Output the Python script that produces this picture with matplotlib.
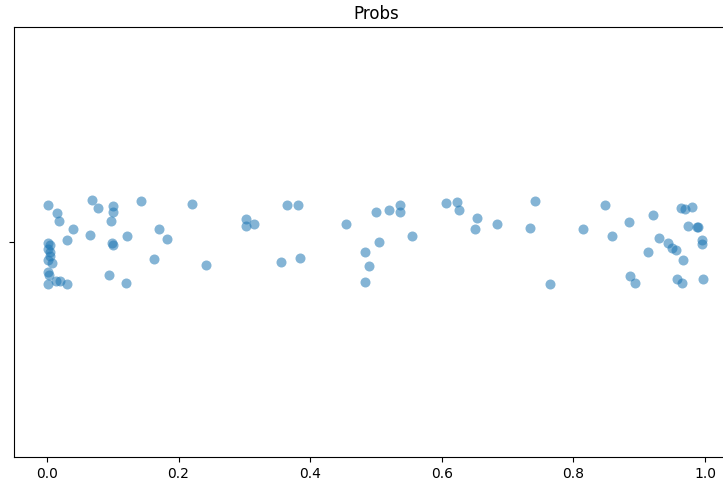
import matplotlib
matplotlib.use("Agg")
import matplotlib.pyplot as plt

title = "Probs"
xtick_vals = [0.0, 0.2, 0.4, 0.6, 0.8, 1.0]
xtick_labels = ["0.0", "0.2", "0.4", "0.6", "0.8", "1.0"]

probs = [0.001, 0.015, 0.019, 0.039, 0.031, 0.002, 0.005, 0.002, 0.005, 0.004,
         0.001, 0.008, 0.001, 0.003, 0.001, 0.014, 0.020, 0.031, 0.068, 0.077,
         0.100, 0.100, 0.097, 0.066, 0.099, 0.100, 0.121, 0.094, 0.120, 0.143,
         0.171, 0.183, 0.163, 0.220, 0.241, 0.303, 0.302, 0.315, 0.365, 0.381,
         0.356, 0.385, 0.455, 0.483, 0.490, 0.483, 0.500, 0.504, 0.519, 0.536,
         0.536, 0.555, 0.607, 0.623, 0.626, 0.654, 0.650, 0.684, 0.734, 0.741,
         0.765, 0.814, 0.848, 0.858, 0.885, 0.921, 0.886, 0.893, 0.914, 0.930,
         0.944, 0.949, 0.956, 0.966, 0.963, 0.970, 0.980, 0.974, 0.987, 0.989,
         0.996, 0.995, 0.958, 0.965, 0.997]

jitter = [-0.086, -0.067, -0.049, -0.031, -0.005, 0.003, 0.007, 0.016, 0.024, 0.033,
          0.042, 0.048, 0.069, 0.076, 0.098, 0.090, 0.090, 0.098, -0.098, -0.079,
          -0.084, -0.069, -0.049, -0.016, 0.003, 0.007, -0.014, 0.077, 0.096, -0.095,
          -0.030, -0.007, 0.040, -0.088, 0.053, -0.053, -0.038, -0.041, -0.086, -0.086,
          0.046, 0.037, -0.043, 0.023, 0.056, 0.092, -0.069, 0.001, -0.074, -0.086,
          -0.070, -0.014, -0.090, -0.094, -0.074, -0.055, -0.030, -0.043, -0.032, -0.096,
          0.098, -0.030, -0.086, -0.014, -0.047, -0.062, 0.079, 0.095, 0.024, -0.010,
          0.003, 0.013, 0.019, 0.042, -0.080, -0.077, -0.082, -0.038, -0.035, -0.034,
          -0.005, 0.005, 0.087, 0.096, 0.086]

W, H = 723, 482
fig = plt.figure(figsize=(W / 100, H / 100), dpi=100)
left, right, top, bottom = 14, 738, 27, 457
ax = fig.add_axes([left / W, 1 - bottom / H, (right - left) / W, (bottom - top) / H])

ax.scatter(probs, jitter, s=52, color="#1f77b4", alpha=0.55, linewidths=0)
ax.set_xlim(-0.05, 1.05)
ax.set_ylim(0.5, -0.5)
ax.set_xticks(xtick_vals)
ax.set_xticklabels(xtick_labels, fontsize=10)
ax.set_yticks([0])
ax.set_yticklabels([""])
ax.set_title(title, fontsize=12)

fig.savefig("out.png", dpi=100)
